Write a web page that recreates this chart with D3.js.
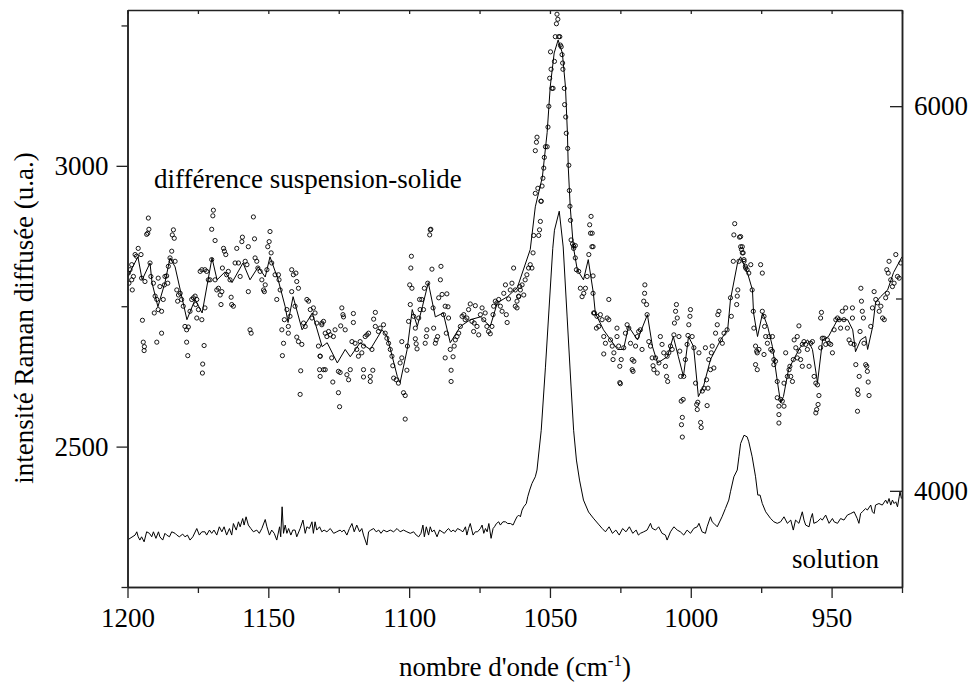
<!DOCTYPE html>
<html><head><meta charset="utf-8">
<script src="https://cdn.jsdelivr.net/npm/d3@7"></script>
<style>
body{margin:0;background:#fff}
svg{display:block}
</style>
</head><body>
<svg id="chart" width="974" height="687"></svg>
<script>
// ---- tick values ----
const xTicksMajor = [1200, 1150, 1100, 1050, 1000, 950];
const xTicksMinor = [1175, 1125, 1075, 1025, 975, 925];
const leftTicksMajor = [2500, 3000];
const leftTicksMinor = [2250, 2750, 3250];
const rightTicksMajor = [4000, 6000];
const rightTicksMinor = [5000];

// ---- labels ----
const leftTitle = "intensité Raman diffusée (u.a.)";
const xTitleMain = "nombre d'onde (cm";
const xTitleSup = "-1";
const labelDiff = "différence suspension-solide";
const labelSol = "solution";

// ---- difference suspension-solide : smoothed line (left axis) ----
const smoothWn = [1200,1196.3,1194.8,1192.0,1191.3,1189.2,1186.7,1184.9,1183.1,1178.9,
1176.0,1173.5,1170.0,1168.2,1165.4,1162.9,1159.0,1156.5,1153.6,1151.1,
1149.4,1146.5,1144.0,1143.0,1141.2,1138.0,1134.4,1130.9,1129.1,1125.5,
1122.7,1120.9,1117.4,1113.8,1109.6,1107.8,1104.2,1103.2,1100.7,1098.9,
1097.1,1095.3,1093.2,1090.7,1087.9,1085.4,1081.8,1078.3,1074.7,1071.2,
1068.7,1065.1,1061.6,1057.0,1055.2,1052.7,1051.0,1049.9,1048.5,1047.1,
1045.6,1044.5,1043.8,1043.5,1042.8,1041.7,1040.3,1038.1,1036.4,1034.6,
1033.9,1031.0,1026.0,1023.9,1022.1,1018.9,1015.4,1013.6,1011.8,1008.3,
1006.2,1004.4,1002.6,1000.8,999.0,997.3,995.5,993.0,989.4,986.9,
985.9,983.4,982.3,979.9,978.1,977.7,976.3,974.5,972.7,971.0,
969.2,968.1,967.1,965.3,963.5,961.0,958.5,956.8,955.0,953.2,
951.1,947.9,944.3,942.5,941.5,939.7,937.9,937.2,935.4,934.4,
932.6,930.1,928.0,925];
const smoothVal = [2802,2838,2797,2827,2792,2749,2792,2836,2820,2726,
2762,2738,2836,2797,2811,2792,2827,2797,2820,2802,
2838,2797,2749,2721,2767,2708,2738,2678,2685,2649,
2673,2660,2685,2673,2708,2696,2625,2614,2673,2744,
2714,2749,2792,2731,2738,2685,2714,2726,2731,2714,
2756,2767,2783,2851,2927,2980,3059,3141,3201,3224,
3201,3141,3059,2998,2927,2856,2815,2797,2833,2774,
2738,2708,2673,2673,2714,2690,2735,2678,2649,2660,
2696,2660,2625,2696,2678,2589,2607,2655,2690,2708,
2762,2827,2838,2810,2779,2738,2696,2738,2714,2678,
2614,2578,2589,2637,2655,2678,2690,2673,2614,2690,
2696,2726,2726,2708,2669,2690,2696,2673,2714,2756,
2767,2779,2810,2838];

// ---- difference suspension-solide : measured points [wavenumber, intensity] ----
const suspPoints = [
[1192.6,2907],[1192.4,2887],[1192.8,2880],[1193.2,2878],[1196.2,2853],[1197.3,2842],[1196.8,2839],[1195.2,2842],
[1198.5,2824],[1199.1,2815],[1199.7,2809],[1197.9,2803],[1198.5,2797],[1199.5,2791],[1198.3,2779],[1195.0,2800],
[1193.8,2794],[1192.0,2827],[1191.7,2803],[1190.8,2791],[1190.2,2768],[1189.6,2762],[1190.5,2738],[1189.1,2744],
[1187.9,2741],[1187.3,2762],[1189.1,2800],[1188.5,2785],[1186.7,2803],[1186.1,2804],[1186.9,2788],[1185.7,2791],
[1194.7,2725],[1194.4,2686],[1194.0,2678],[1194.1,2671],[1189.6,2686],[1187.9,2702],[1183.7,2886],[1184.1,2877],
[1183.4,2871],[1184.3,2848],[1184.9,2836],[1184.5,2830],[1183.1,2830],[1185.5,2821],[1182.5,2779],[1181.9,2770],
[1181.3,2773],[1182.2,2759],[1180.8,2762],[1180.2,2750],[1179.6,2714],[1179.0,2708],[1178.4,2713],[1179.0,2686],
[1178.6,2662],[1177.8,2741],[1177.2,2762],[1176.6,2765],[1176.0,2768],[1175.4,2762],[1175.8,2753],[1174.8,2744],
[1175.4,2729],[1173.6,2726],[1172.5,2747],[1172.8,2680],[1173.3,2647],[1173.4,2631],[1169.5,2921],[1169.7,2911],
[1170.1,2887],[1168.9,2867],[1174.2,2812],[1173.6,2815],[1172.5,2815],[1171.9,2812],[1171.3,2797],[1170.7,2797],
[1170.1,2833],[1168.9,2797],[1168.3,2779],[1167.7,2782],[1166.5,2776],[1167.1,2770],[1166.8,2753],[1166.3,2818],
[1165.9,2853],[1165.6,2848],[1165.1,2842],[1164.8,2806],[1164.2,2812],[1163.6,2797],[1163.2,2766],[1163.0,2753],
[1162.4,2750],[1161.2,2853],[1161.8,2827],[1160.6,2827],[1160.0,2803],[1159.4,2865],[1159.2,2873],[1158.2,2830],
[1157.6,2824],[1157.1,2856],[1157.1,2776],[1156.5,2708],[1156.1,2702],[1155.3,2909],[1154.9,2870],[1154.7,2836],
[1154.1,2830],[1153.7,2818],[1152.9,2812],[1152.3,2797],[1151.7,2779],[1151.4,2776],[1151.1,2788],[1150.5,2815],
[1150.2,2856],[1149.7,2865],[1149.4,2883],[1149.0,2845],[1148.8,2827],[1147.6,2806],[1147.0,2762],[1146.4,2806],
[1146.2,2797],[1145.8,2779],[1145.2,2708],[1144.6,2684],[1145.0,2662],[1144.3,2726],[1143.4,2744],[1142.9,2714],
[1142.9,2702],[1142.3,2732],[1141.7,2815],[1141.1,2806],[1140.2,2809],[1139.9,2794],[1139.3,2782],[1141.7,2776],
[1140.5,2750],[1139.9,2695],[1139.3,2687],[1138.5,2635],[1138.7,2593],[1138.1,2682],[1137.5,2720],[1136.9,2714],
[1136.3,2762],[1135.7,2759],[1135.1,2744],[1134.5,2729],[1134.0,2747],[1133.4,2738],[1132.8,2720],[1132.2,2679],
[1131.6,2661],[1131.8,2637],[1130.4,2637],[1131.0,2717],
[1131.0,2720],[1130.4,2723],[1129.8,2702],[1128.6,2705],[1129.2,2696],[1128.0,2699],[1126.3,2708],[1126.9,2696],
[1131.6,2661],[1129.8,2637],[1131.6,2625],[1127.5,2658],[1127.1,2615],[1125.1,2634],[1124.5,2632],[1125.1,2596],
[1124.7,2571],[1123.9,2747],[1123.5,2735],[1123.3,2731],[1124.3,2715],[1122.7,2708],[1122.1,2628],[1121.5,2619],
[1120.9,2637],[1119.8,2737],[1119.8,2721],[1120.3,2687],[1119.2,2684],[1118.6,2673],[1118.0,2661],[1117.4,2687],
[1116.8,2667],[1116.2,2679],[1115.6,2696],[1115.0,2699],[1114.4,2702],[1116.2,2637],[1116.2,2624],[1113.8,2625],
[1113.8,2616],[1112.9,2636],[1113.2,2673],[1112.0,2739],[1112.6,2727],[1112.0,2714],[1110.9,2705],[1110.3,2711],
[1109.1,2717],[1108.5,2702],[1107.9,2693],[1107.3,2684],[1106.7,2673],[1106.1,2661],[1105.8,2644],[1105.5,2622],
[1104.6,2619],[1103.8,2613],[1103.2,2649],[1102.6,2658],[1102.6,2687],[1102.0,2596],[1101.4,2591],[1101.4,2549],
[1100.8,2636],[1100.6,2679],[1100.2,2723],[1099.6,2753],[1099.8,2788],[1099.0,2782],[1099.4,2818],[1099.2,2839],
[1098.4,2732],[1097.8,2711],[1097.8,2692],[1097.5,2683],[1097.2,2674],[1096.6,2729],[1096.1,2744],[1096.3,2762],
[1095.5,2762],[1094.9,2744],[1094.6,2782],[1094.3,2684],[1093.9,2696],[1093.7,2708],[1093.4,2791],[1092.7,2877],
[1092.5,2886],[1092.3,2887],[1091.9,2816],[1091.5,2747],[1091.3,2711],[1090.7,2684],[1090.4,2690],[1089.9,2696],
[1089.5,2765],[1088.9,2797],[1088.7,2821],[1088.3,2771],[1087.8,2735],[1087.2,2750],[1086.6,2772],[1086.2,2749],
[1086.0,2729],[1086.8,2702],[1087.2,2658],[1085.4,2673],[1085.1,2636],[1085.1,2616],[1084.4,2660],[1084.0,2679],
[1083.6,2690],[1083.0,2696],[1082.4,2702],[1081.8,2714],[1081.2,2732],[1080.6,2735],[1080.1,2726],[1079.5,2729],
[1078.9,2744],[1078.3,2754],[1077.7,2723],[1077.1,2705],[1076.9,2720],[1076.5,2751],[1075.9,2714],[1075.3,2699],
[1074.7,2735],[1074.1,2747],[1073.5,2726],[1073.0,2738],[1072.4,2714],[1071.8,2705],[1071.2,2701],[1070.6,2714],
[1070.2,2735],[1070.0,2750],[1069.4,2759],[1068.8,2756],[1068.2,2762],[1067.6,2750],[1067.0,2741],[1066.4,2773],
[1065.8,2788],[1065.5,2735],[1065.2,2721],[1064.7,2763],[1064.1,2779],[1063.5,2791],[1062.9,2818],[1062.3,2779],
[1061.7,2747],[1061.1,2767],[1060.7,2785],
[1062.3,2750],[1061.7,2759],[1061.1,2768],[1060.5,2779],[1059.9,2788],[1059.3,2770],[1058.8,2797],[1058.2,2806],
[1057.6,2818],[1057.0,2824],[1056.4,2818],[1056.0,2845],[1055.8,2876],[1054.0,2876],[1053.7,2886],[1053.4,2901],
[1053.1,2937],
[1055.2,3027],[1054.8,3042],[1054.6,3051],[1055.2,2951],[1054.3,2960],[1053.2,2937],[1052.8,2964],[1052.5,2978],
[1052.2,2996],[1052.0,3015],[1051.6,3034],[1051.0,3034],[1050.7,3069],[1050.4,3106],[1050.1,3156],[1049.6,3172],
[1049.3,3138],[1048.9,3138],[1048.4,3186],[1049.8,3203],[1048.1,3230],[1047.7,3253],[1047.5,3270],[1047.2,3261],
[1046.9,3230],[1046.5,3230],[1046.3,3215],[1046.0,3212],[1045.7,3198],[1045.5,3183],[1045.4,3172],[1044.9,3138],
[1044.8,3109],[1044.4,3087],[1044.2,3058],[1043.7,3031],[1043.3,3001],[1043.1,2956],[1042.9,2928],[1042.7,2903],
[1042.5,2868],[1042.0,2861],[1041.6,2857],[1041.0,2858],
[1041.6,2853],[1041.0,2836],[1040.6,2815],[1039.8,2812],[1039.2,2782],[1038.6,2767],[1038.0,2773],[1037.4,2782],
[1036.8,2803],[1036.2,2842],[1035.6,2880],[1035.9,2895],[1035.4,2910],[1035.1,2856],[1034.7,2773],[1034.5,2738],
[1035.0,2880],[1034.7,2856],[1034.7,2804],[1034.2,2738],[1033.3,2732],[1033.5,2711],[1032.7,2714],[1032.1,2735],
[1031.5,2726],[1030.9,2696],[1030.3,2684],[1030.9,2665],[1029.1,2762],[1029.7,2729],[1029.1,2726],[1028.5,2690],
[1027.9,2679],[1027.3,2667],[1027.6,2655],[1026.2,2711],[1026.2,2696],[1025.6,2679],[1025.2,2643],[1025.0,2612],
[1025.2,2614],[1024.7,2655],[1023.8,2676],[1023.2,2702],[1022.6,2717],[1022.0,2711],[1021.4,2684],[1020.8,2655],
[1020.5,2634],[1020.8,2637],[1020.2,2652],[1019.6,2679],[1019.0,2696],[1018.5,2705],[1017.9,2708],[1017.3,2673],
[1016.7,2759],[1016.3,2788],[1016.4,2773],[1015.7,2753],[1015.5,2735],[1014.9,2687],[1014.3,2679],[1013.7,2658],
[1013.4,2644],[1013.1,2637],[1012.5,2658],[1011.9,2631],[1011.3,2649],[1010.8,2696],[1010.2,2682],[1009.6,2667],
[1009.0,2643],[1008.6,2625],[1008.2,2616],[1008.4,2661],[1007.8,2667],[1007.2,2679],[1006.6,2673],[1006.0,2699],
[1005.8,2720],[1005.4,2741],[1005.1,2753],[1004.8,2729],[1004.2,2696],[1003.9,2670],[1003.6,2625],[1003.4,2581],
[1002.7,2584],[1003.0,2552],[1003.3,2539],[1003.0,2517],[1002.5,2625],[1001.9,2655],[1001.3,2682],[1001.0,2698],
[1000.7,2717],[1000.3,2732],[1000.1,2744],[999.5,2696],[998.9,2676],[998.3,2613],[997.9,2575],[997.7,2566],
[997.5,2579],[997.1,2667],[996.5,2543],[996.3,2534],[995.9,2599],[995.3,2604],[994.8,2676],[994.4,2619],
[994.2,2573],[993.9,2604],[993.6,2655],[993.0,2637],[992.7,2667],[992.4,2679],[991.8,2640],[991.2,2702],
[990.6,2717],[990.4,2735],[990.0,2741],[989.4,2690],[988.8,2684],[988.2,2702],[987.1,2708],[985.9,2765],
[985.6,2732],[984.9,2830],[984.4,2897],[984.7,2877],[983.7,2753],[983.5,2768],[983.3,2779],[982.9,2830],
[982.7,2873],[982.3,2856],[982.0,2851],[981.7,2845],[981.1,2830],[980.5,2818],
[982.3,2874],[981.7,2856],[981.4,2845],[981.1,2833],[980.6,2821],[980.0,2815],[979.4,2809],[978.7,2824],
[978.2,2779],[977.8,2741],[977.6,2711],[977.0,2679],[976.6,2670],[976.4,2667],[977.0,2646],[976.4,2637],
[975.8,2673],[975.2,2824],[974.6,2809],[974.6,2741],[974.0,2732],[973.8,2714],[973.4,2696],[974.0,2664],
[972.8,2684],[972.2,2696],[971.6,2673],[971.0,2670],[971.0,2696],[970.5,2655],[970.5,2646],[969.9,2652],
[969.3,2616],[969.3,2587],[968.7,2572],[968.7,2557],[968.7,2542],[968.1,2584],[967.5,2581],[966.9,2572],
[966.9,2613],[966.3,2667],[965.7,2625],[965.1,2637],[964.8,2643],[964.5,2625],[963.9,2616],[963.6,2655],
[963.3,2690],[962.7,2676],[962.2,2696],[961.6,2715],[962.2,2658],[961.6,2670],[961.0,2655],[960.4,2643],
[960.4,2682],[959.8,2687],[959.2,2682],[958.6,2673],[958.0,2643],[957.4,2684],[956.8,2687],[956.2,2625],
[955.6,2613],[955.0,2610],[954.8,2575],[955.3,2566],[955.6,2560],[954.5,2591],[953.9,2676],[953.3,2693],
[953.9,2729],[953.6,2739],[952.7,2693],[952.1,2682],[951.5,2690],[950.9,2684],[950.3,2682],[949.7,2667],
[949.1,2708],[948.5,2726],[947.9,2729],[947.3,2726],[946.8,2711],[946.2,2741],[945.6,2726],[945.0,2747],
[944.4,2711],[943.8,2690],[943.2,2684],[942.6,2729],[942.6,2747],[942.0,2682],[941.4,2646],[940.8,2601],
[940.6,2593],[940.2,2625],[940.8,2563],[939.9,2705],[939.6,2782],[939.4,2759],[939.1,2741],[938.7,2729],
[938.5,2684],[937.9,2646],[937.5,2643],[937.3,2634],[937.0,2615],[936.7,2591],[936.1,2714],[935.5,2747],
[934.9,2776],[934.3,2762],[933.7,2756],[933.1,2741],[932.5,2750],[931.9,2729],[931.3,2726],[930.8,2765],
[930.2,2773],[930.4,2815],[929.9,2809],[929.6,2830],[929.0,2797],[928.4,2785],[927.8,2791],[927.2,2842],
[926.6,2803],[926.0,2800],[925.4,2827]
];

// ---- solution spectrum (right axis) [wavenumber, intensity] ----
const solution = [
[1200,3744],[1199.1,3753],[1197.3,3770],[1196.7,3787],[1196.2,3761],[1195.6,3744],[1195.0,3761],[1194.1,3735],
[1193.2,3787],[1192.2,3779],[1191.4,3761],[1190.8,3787],[1189.9,3753],[1189.0,3787],[1188.5,3761],[1187.5,3744],
[1186.7,3779],[1186.1,3770],[1185.1,3761],[1184.3,3787],[1183.1,3779],[1182.5,3770],[1181.6,3761],[1180.4,3775],
[1179.6,3761],[1178.7,3770],[1177.8,3744],[1176.8,3761],[1175.4,3804],[1174.5,3770],[1173.6,3787],[1172.5,3787],
[1171.9,3770],[1170.9,3796],[1170.1,3779],[1169.3,3796],[1168.3,3770],[1167.4,3813],[1166.5,3787],[1165.7,3813],
[1164.8,3770],[1163.8,3804],[1163.0,3770],[1162.4,3830],[1161.4,3796],[1160.6,3839],[1160.0,3813],[1159.1,3856],
[1158.6,3822],[1157.9,3865],[1157.1,3822],[1156.2,3804],[1155.3,3787],[1154.1,3796],[1153.2,3779],[1152.3,3804],
[1151.1,3851],[1150.5,3813],[1149.6,3770],[1148.8,3796],[1147.9,3779],[1147.0,3744],[1146.0,3813],[1145.6,3761],
[1145.1,3917],[1144.6,3779],[1144.0,3822],[1143.4,3779],[1142.8,3804],[1142.0,3770],[1141.3,3796],[1140.5,3796],
[1139.9,3761],[1138.7,3804],[1137.7,3848],[1136.9,3779],[1136.3,3813],[1135.4,3804],[1134.5,3839],[1134.0,3779],
[1133.4,3839],[1132.8,3796],[1131.8,3813],[1131.0,3787],[1130.2,3796],[1129.2,3787],[1128.0,3804],[1126.8,3779],
[1125.7,3787],[1124.5,3796],[1123.9,3787],[1123.1,3796],[1122.1,3770],[1121.2,3804],[1120.3,3830],[1119.5,3787],
[1118.6,3822],[1117.6,3787],[1116.8,3804],[1116.2,3770],[1115.0,3718],[1114.4,3787],[1113.6,3796],[1112.6,3804],
[1111.7,3787],[1110.8,3796],[1110.0,3779],[1109.1,3796],[1107.9,3787],[1106.7,3796],[1105.5,3787],[1104.3,3804],
[1103.2,3787],[1102.0,3796],[1100.8,3787],[1099.6,3779],[1098.4,3787],[1097.5,3770],[1096.6,3761],[1095.8,3779],
[1095.1,3822],[1094.6,3761],[1093.9,3813],[1093.1,3770],[1092.5,3813],[1091.9,3787],[1091.1,3796],[1090.1,3761],
[1089.2,3796],[1088.3,3787],[1087.5,3779],[1086.6,3796],[1086.0,3804],[1085.1,3787],[1084.4,3796],[1083.6,3787],
[1082.8,3804],[1081.8,3796],[1080.9,3787],[1080.0,3813],[1079.5,3770],[1078.9,3804],[1078.3,3830],[1077.3,3770],
[1076.5,3787],[1075.7,3787],[1074.7,3804],[1074.1,3822],[1073.5,3779],[1072.9,3804],[1072.3,3787],[1071.7,3830],
[1070.9,3753],[1070.2,3804],[1069.7,3813],[1069.0,3830],[1068.2,3839],[1067.6,3822],[1066.7,3839],[1065.8,3839],
[1065.0,3830],[1064.0,3830],[1063.1,3822],[1062.3,3848],[1061.7,3865],[1061.1,3874],[1060.5,3865],[1059.9,3900],
[1059.3,3917],[1058.4,3934],[1057.9,3969],[1057.2,4004],[1056.4,4038],[1055.8,4056],[1055.2,4073],[1054.6,4108],
[1053.1,4315],[1051.6,4643],[1049.0,5261],[1048.4,5355],[1046.7,5454],[1045.3,5268],[1043.9,4904],[1042.5,4540],
[1041.6,4315],[1040.6,4160],[1039.5,4056],[1038.1,3952],[1036.3,3890],[1034.6,3858],[1032.8,3827],
[1031.5,3805],[1030.3,3787],[1029.0,3813],[1027.8,3779],[1026.6,3796],[1025.4,3770],[1024.2,3804],[1023.0,3787],
[1021.8,3813],[1020.6,3779],[1019.4,3796],[1018.6,3770],
[1017.9,3779],[1016.7,3787],[1015.5,3796],[1014.3,3831],[1013.7,3805],[1012.5,3796],[1011.4,3813],[1010.2,3779],
[1009.0,3770],[1008.4,3744],[1007.2,3787],[1006.0,3813],[1004.8,3796],[1003.7,3787],[1002.5,3770],[1001.3,3796],
[1000.1,3779],[998.9,3805],[997.7,3813],[997.1,3831],[996.0,3787],[994.8,3779],[994.2,3813],[993.0,3865],
[992.4,3839],[991.8,3831],[990.6,3813],[988.9,3865],[987.7,3908],[986.5,3952],[985.9,3995],[984.7,4073],
[983.5,4108],[982.9,4177],[982.3,4246],[981.1,4289],[980.0,4281],[979.4,4255],[978.2,4177],[977.0,4073],
[976.2,3978],[975.4,3978],[974.6,3934],[973.4,3891],[971.7,3857],[970.5,3839],[969.3,3831],[968.1,3839],
[966.9,3865],[965.7,3831],[964.5,3848],[963.6,3796],[962.8,3848],[961.6,3831],[960.4,3891],[959.8,3848],
[959.2,3822],[958.0,3813],[957.4,3856],[956.8,3882],[956.3,3831],[955.1,3839],[953.9,3856],[953.3,3848],
[952.1,3874],[950.9,3831],[949.7,3856],[949.1,3839],[947.9,3831],[946.8,3856],[945.6,3848],[944.4,3874],
[943.2,3882],[942.0,3891],[940.9,3856],[940.3,3831],[939.7,3882],[939.1,3891],[937.9,3908],[937.3,3900],
[936.1,3926],[935.5,3891],[934.9,3882],[934.4,3926],[933.2,3934],[932.0,3926],[930.8,3952],[930.2,3934],
[929.6,3960],[929.0,3926],[928.4,3952],[927.8,3934],[927.2,3943],[926.6,3917],[926.0,3969],[925.7,3995],
[925.2,3960]
];

// ---- layout ----
const FONT = "Liberation Serif";
const L = 127.5, R = 902, T = 10, B = 587;
const svg = d3.select("#chart");

const x = d3.scaleLinear().domain([1200, 925]).range([L, R]);
const yL = d3.scaleLinear().domain([2250, 3277.5]).range([B, T]);
const yR = d3.scaleLinear().domain([3500, 6500]).range([B, T]);

svg.append("defs").append("clipPath").attr("id", "clip")
  .append("rect").attr("x", L).attr("y", T - 4).attr("width", R - L).attr("height", B - T + 4);

const plot = svg.append("g").attr("clip-path", "url(#clip)");

// solution line
plot.append("path")
  .datum(solution)
  .attr("fill", "none").attr("stroke", "#000").attr("stroke-width", 1)
  .attr("d", d3.line().x(d => x(d[0])).y(d => yR(d[1])));

// smoothed difference line
const smooth = smoothWn.map((w, i) => [w, smoothVal[i]]);
plot.append("path")
  .datum(smooth)
  .attr("fill", "none").attr("stroke", "#000").attr("stroke-width", 1)
  .attr("d", d3.line().x(d => x(d[0])).y(d => yL(d[1])));

// scatter points
plot.append("g").selectAll("circle").data(suspPoints).join("circle")
  .attr("cx", d => x(d[0])).attr("cy", d => yL(d[1])).attr("r", 2.1)
  .attr("fill", "none").attr("stroke", "#000").attr("stroke-width", 0.9);

// ---- axes ----
const axisColor = "#222";
function style(g) {
  g.attr("font-family", FONT);
  g.selectAll("path.domain").attr("stroke", axisColor).attr("stroke-width", 1.5);
  g.selectAll(".tick line").attr("stroke", axisColor).attr("stroke-width", 1.3);
  g.selectAll("text").attr("font-family", FONT).attr("font-size", 27).attr("fill", "#000");
}

svg.append("g").attr("transform", `translate(0,${B})`)
  .call(d3.axisBottom(x).tickValues(xTicksMajor).tickSize(11).tickSizeOuter(0).tickPadding(10).tickFormat(d3.format("d")))
  .call(style);
svg.append("g").attr("transform", `translate(0,${B})`)
  .call(d3.axisBottom(x).tickValues(xTicksMinor).tickSize(6).tickSizeOuter(0).tickFormat(""))
  .call(style);

svg.append("g").attr("transform", `translate(0,${T})`)
  .call(d3.axisTop(x).tickValues(xTicksMajor.concat(xTicksMinor)).tickSize(-4).tickSizeOuter(0).tickFormat(""))
  .call(style);

svg.append("g").attr("transform", `translate(${L},0)`)
  .call(d3.axisLeft(yL).tickValues(leftTicksMajor).tickSize(11).tickSizeOuter(0).tickPadding(8).tickFormat(d3.format("d")))
  .call(style);
svg.append("g").attr("transform", `translate(${L},0)`)
  .call(d3.axisLeft(yL).tickValues(leftTicksMinor).tickSize(6).tickSizeOuter(0).tickFormat(""))
  .call(style);

svg.append("g").attr("transform", `translate(${R},0)`)
  .call(d3.axisRight(yR).tickValues(rightTicksMajor).tickSizeInner(-12).tickSizeOuter(0).tickPadding(12).tickFormat(d3.format("d")))
  .call(style);
svg.append("g").attr("transform", `translate(${R},0)`)
  .call(d3.axisRight(yR).tickValues(rightTicksMinor).tickSizeInner(-6).tickSizeOuter(0).tickFormat(""))
  .call(style);

// ---- texts ----
svg.append("text")
  .attr("transform", `translate(33,318) rotate(-90)`)
  .attr("text-anchor", "middle").attr("font-family", FONT).attr("font-size", 27)
  .text(leftTitle);

const xt = svg.append("text").attr("x", 515).attr("y", 676)
  .attr("text-anchor", "middle").attr("font-family", FONT).attr("font-size", 27);
xt.append("tspan").text(xTitleMain);
xt.append("tspan").attr("dy", -10).attr("font-size", 17).text(xTitleSup);
xt.append("tspan").attr("dy", 10).attr("font-size", 27).text(")");

svg.append("text").attr("x", 154).attr("y", 188).attr("font-family", FONT).attr("font-size", 27).text(labelDiff);
svg.append("text").attr("x", 792).attr("y", 568).attr("font-family", FONT).attr("font-size", 27).text(labelSol);
</script>
</body></html>
